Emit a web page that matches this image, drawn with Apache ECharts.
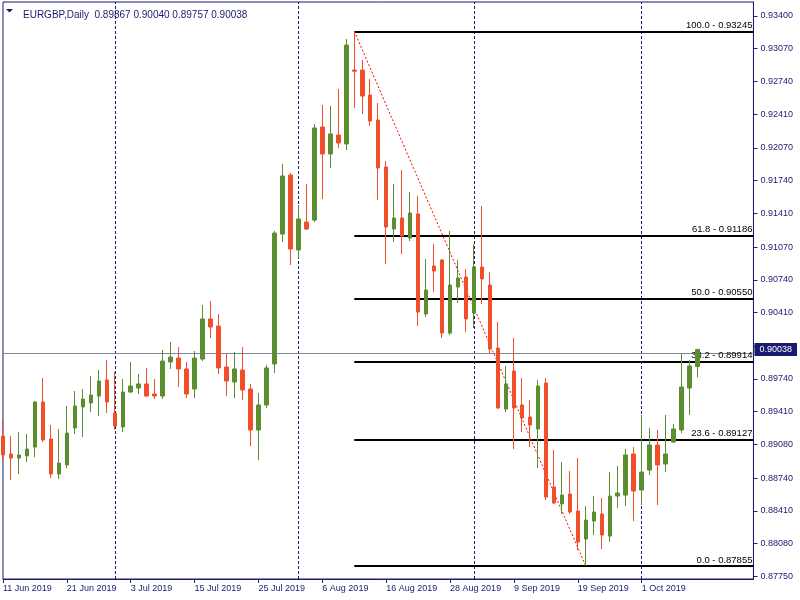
<!DOCTYPE html>
<html>
<head>
<meta charset="utf-8">
<script src="https://cdn.jsdelivr.net/npm/echarts@6/dist/echarts.min.js"></script>
<style>html,body{margin:0;padding:0;background:#fff}#c{width:800px;height:600px}</style>
</head>
<body>
<div id="c"></div>
<script>
const symbolName = 'EURGBP,Daily';
const dates = [
'11 Jun 2019','12 Jun 2019','13 Jun 2019','14 Jun 2019','17 Jun 2019','18 Jun 2019','19 Jun 2019','20 Jun 2019','21 Jun 2019','24 Jun 2019','25 Jun 2019','26 Jun 2019','27 Jun 2019','28 Jun 2019',
'1 Jul 2019','2 Jul 2019','3 Jul 2019','4 Jul 2019','5 Jul 2019','8 Jul 2019','9 Jul 2019','10 Jul 2019','11 Jul 2019','12 Jul 2019','15 Jul 2019','16 Jul 2019','17 Jul 2019','18 Jul 2019','19 Jul 2019','22 Jul 2019','23 Jul 2019','24 Jul 2019','25 Jul 2019','26 Jul 2019','29 Jul 2019','30 Jul 2019','31 Jul 2019',
'1 Aug 2019','2 Aug 2019','5 Aug 2019','6 Aug 2019','7 Aug 2019','8 Aug 2019','9 Aug 2019','12 Aug 2019','13 Aug 2019','14 Aug 2019','15 Aug 2019','16 Aug 2019','19 Aug 2019','20 Aug 2019','21 Aug 2019','22 Aug 2019','23 Aug 2019','26 Aug 2019','27 Aug 2019','28 Aug 2019','29 Aug 2019','30 Aug 2019',
'2 Sep 2019','3 Sep 2019','4 Sep 2019','5 Sep 2019','6 Sep 2019','9 Sep 2019','10 Sep 2019','11 Sep 2019','12 Sep 2019','13 Sep 2019','16 Sep 2019','17 Sep 2019','18 Sep 2019','19 Sep 2019','20 Sep 2019','23 Sep 2019','24 Sep 2019','25 Sep 2019','26 Sep 2019','27 Sep 2019','30 Sep 2019',
'1 Oct 2019','2 Oct 2019','3 Oct 2019','4 Oct 2019','7 Oct 2019','8 Oct 2019','9 Oct 2019','10 Oct 2019'
];
const emptySlots = ['', '', '', '', '', '', ''];
const opens = [
0.89165,0.88984,0.88943,0.88964,0.89054,0.89508,0.89135,0.88782,0.88873,0.89246,
0.89458,0.89498,0.89568,0.89730,0.89397,0.89256,0.89609,0.89649,0.89690,0.89589,
0.89568,0.89911,0.89951,0.89841,0.89639,0.89941,0.90345,0.90274,0.89861,0.89710,
0.89830,0.89639,0.89226,0.89478,0.89891,0.91201,0.91796,0.91040,0.91322,0.91342,
0.92280,0.92008,0.92199,0.92109,0.92854,0.92854,0.92602,0.92350,0.91877,0.91252,
0.91363,0.91161,0.91403,0.90395,0.90879,0.90939,0.90203,0.90667,0.90768,0.90405,
0.90869,0.90687,0.90052,0.89437,0.89820,0.89478,0.89357,0.89236,0.89700,0.88651,
0.88480,0.88580,0.88409,0.88127,0.88308,0.88379,0.88157,0.88560,0.88570,0.88984,
0.88621,0.88822,0.89074,0.88883,0.89105,0.89226,0.89649,0.89867
];
const highs = [
0.89337,0.89165,0.89205,0.89185,0.89518,0.89750,0.89276,0.89236,0.89468,0.89619,
0.89639,0.89770,0.89830,0.89931,0.89810,0.89740,0.89911,0.89790,0.89851,0.89740,
0.90032,0.90113,0.90062,0.89911,0.90022,0.90486,0.90526,0.90395,0.89992,0.90012,
0.90062,0.89690,0.89599,0.89881,0.91232,0.91907,0.91816,0.91494,0.91705,0.92310,
0.92502,0.92492,0.92663,0.93167,0.93245,0.92955,0.92764,0.92522,0.91937,0.91705,
0.91846,0.91625,0.91584,0.90949,0.91101,0.90949,0.91232,0.90939,0.90848,0.91101,
0.91484,0.90818,0.90314,0.89871,0.90153,0.89750,0.89528,0.89730,0.89750,0.89024,
0.88903,0.88812,0.88943,0.88460,0.88560,0.88540,0.88802,0.88863,0.89034,0.89054,
0.89377,0.89246,0.89226,0.89377,0.89286,0.90002,0.89931,0.90040
];
const lows = [
0.88913,0.88722,0.88782,0.88903,0.88953,0.89105,0.88742,0.88732,0.88843,0.89185,
0.89155,0.89407,0.89367,0.89397,0.89226,0.89205,0.89599,0.89589,0.89558,0.89538,
0.89538,0.89841,0.89659,0.89548,0.89548,0.89921,0.90153,0.89790,0.89568,0.89548,
0.89528,0.89064,0.88923,0.89448,0.89800,0.91121,0.90889,0.90959,0.91242,0.91322,
0.91554,0.91867,0.92068,0.92048,0.92471,0.92411,0.92290,0.91544,0.90899,0.91121,
0.91000,0.91131,0.90274,0.90365,0.90617,0.90153,0.90183,0.90506,0.90214,0.90254,
0.90496,0.89992,0.89437,0.89407,0.89034,0.89205,0.89054,0.88843,0.88520,0.88480,
0.88379,0.88379,0.88016,0.87855,0.88167,0.88026,0.88097,0.88439,0.88460,0.88308,
0.88470,0.88772,0.88470,0.88802,0.89094,0.89195,0.89377,0.89757
];
const closes = [
0.88974,0.88943,0.88974,0.89034,0.89508,0.89125,0.88782,0.88893,0.89195,0.89468,
0.89538,0.89578,0.89720,0.89508,0.89266,0.89609,0.89669,0.89690,0.89568,0.89568,
0.89921,0.89961,0.89841,0.89589,0.89951,0.90345,0.90264,0.89851,0.89720,0.89841,
0.89629,0.89226,0.89478,0.89851,0.91211,0.91786,0.91050,0.91353,0.91252,0.92270,
0.92008,0.92210,0.92119,0.93106,0.92843,0.92592,0.92340,0.91867,0.91272,0.91363,
0.91181,0.91413,0.90415,0.90637,0.90828,0.90203,0.90687,0.90758,0.90345,0.90869,
0.90748,0.90042,0.89448,0.89690,0.89448,0.89347,0.89276,0.89669,0.88550,0.88490,
0.88570,0.88399,0.88097,0.88318,0.88399,0.88167,0.88560,0.88591,0.88974,0.88611,
0.88802,0.89074,0.88873,0.88984,0.89236,0.89659,0.89871,0.90038
];
const yTicks = [0.87750,0.88080,0.88410,0.88740,0.89080,0.89410,0.89740,0.90070,0.90410,0.90740,0.91070,0.91410,0.91740,0.92070,0.92410,0.92740,0.93070,0.93400];
const fibLevels = ['0.0','23.6','38.2','50.0','61.8','100.0'];
const fibPrices = [0.87855,0.89127,0.89914,0.90550,0.91186,0.93245];
const fibStartIndex = 44;      // swing high bar
const trendFrom = [44, 0.93245];
const trendTo = [73, 0.87855];
const separatorIdx = [14, 37, 59, 80];
const labelStep = 8;

const NAVY = '#1a1a6e';
const BULL = '#5a8e2e';
const BEAR = '#f04f2a';
const FONT = '"Liberation Sans", Arial, sans-serif';

const cats = dates.concat(emptySlots);
const lastIdx = cats.length - 1;
const ohlc = opens.map((o, i) => [o, closes[i], lows[i], highs[i]]);
const n = dates.length - 1;
const lastClose = closes[n];
const isLabelIdx = (i) => i % labelStep === 0 && i < dates.length;

const markData = [];
separatorIdx.forEach(i => markData.push({
  xAxis: i, label: {show: false},
  lineStyle: {color: NAVY, width: 1, type: [3, 2]}
}));
markData.push({
  yAxis: lastClose,
  lineStyle: {color: '#7b8799', width: 1, type: 'solid'},
  label: {show: false}
});
fibPrices.forEach((p, k) => markData.push([
  {coord: [fibStartIndex, p],
   lineStyle: {color: '#000', width: 2, type: 'solid'},
   label: {show: true, position: 'insideEndTop', formatter: fibLevels[k] + ' - ' + p.toFixed(5),
     color: '#000', fontSize: 9.5, fontFamily: FONT, distance: 1, padding: [0, 0, 0, 0]}},
  {coord: [lastIdx, p]}
]));
markData.push([
  {coord: trendFrom, lineStyle: {color: '#ff0000', width: 1, type: [2, 2]}, label: {show: false}},
  {coord: trendTo}
]);

const chart = echarts.init(document.getElementById('c'), null, {renderer: 'canvas'});
chart.setOption({
  animation: false,
  backgroundColor: '#ffffff',
  title: {
    text: symbolName + '  ' + [opens[n], highs[n], lows[n], closes[n]].map(v => v.toFixed(5)).join(' '),
    left: 18, top: 5,
    textStyle: {fontSize: 10, fontWeight: 'normal', color: NAVY, fontFamily: FONT}
  },
  graphic: [{
    type: 'polygon', shape: {points: [[6, 9], [13, 9], [9.5, 12.5]]},
    style: {fill: NAVY}
  }],
  grid: {left: 2, right: 46, top: 2, bottom: 21, show: true, borderColor: NAVY, borderWidth: 1, backgroundColor: 'transparent'},
  xAxis: {
    type: 'category', data: cats, boundaryGap: false,
    axisLine: {lineStyle: {color: NAVY, width: 1}},
    axisTick: {show: true, length: 4, interval: (i) => isLabelIdx(i), lineStyle: {color: NAVY}},
    axisLabel: {interval: 0, hideOverlap: false, align: 'left', margin: 5,
      formatter: (v, i) => isLabelIdx(i) ? v : '',
      fontSize: 9, color: NAVY, fontFamily: FONT, showMaxLabel: true, showMinLabel: true},
    splitLine: {show: false}
  },
  yAxis: [{
    type: 'value', position: 'right', min: 0.87724, max: 0.93540,
    axisLine: {show: true, lineStyle: {color: NAVY, width: 1}},
    axisTick: {show: true, length: 4, customValues: yTicks, lineStyle: {color: NAVY}},
    axisLabel: {customValues: yTicks, formatter: v => v.toFixed(5), margin: 7,
      fontSize: 9, color: NAVY, fontFamily: FONT, showMinLabel: true, showMaxLabel: true},
    splitLine: {show: false}
  }, {
    type: 'value', position: 'right', min: 0.87724, max: 0.93540, z: 20,
    axisLine: {show: false}, axisTick: {show: false}, splitLine: {show: false},
    axisLabel: {customValues: [lastClose], formatter: v => v.toFixed(5), margin: 1,
      fontSize: 9, color: '#ffffff', fontFamily: FONT, backgroundColor: NAVY,
      padding: [2, 5, 2, 5], verticalAlign: 'middle', showMinLabel: true, showMaxLabel: true}
  }],
  series: [
    {
      type: 'line', data: [], z: 1, silent: true,
      markLine: {silent: true, symbol: ['none', 'none'], z: 1, animation: false, data: markData}
    },
    {
      type: 'candlestick', data: ohlc, z: 10, barWidth: 4,
      itemStyle: {color: BULL, color0: BEAR, borderColor: BULL, borderColor0: BEAR, borderWidth: 1}
    }
  ]
});
</script>
</body>
</html>
